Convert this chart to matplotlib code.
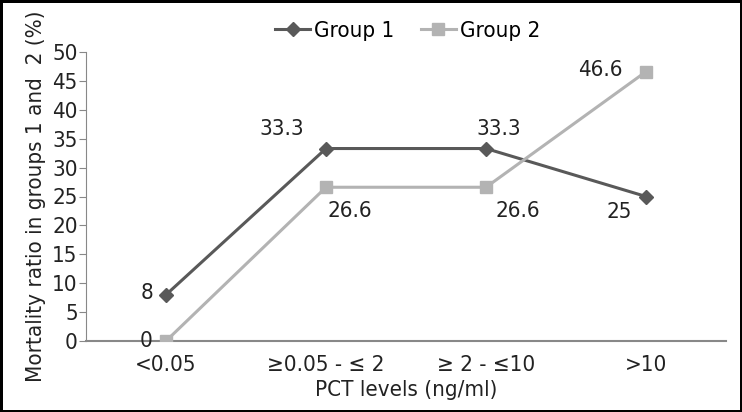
import matplotlib
matplotlib.use('Agg')
import matplotlib.pyplot as plt

# Dati
categorie = ['<0.05', '≥0.05 - ≤ 2', '≥ 2 - ≤10', '>10']
gruppo_1 = [8, 33.3, 33.3, 25]
gruppo_2 = [0, 26.6, 26.6, 46.6]
etichette_1 = ['8', '33.3', '33.3', '25']
etichette_2 = ['0', '26.6', '26.6', '46.6']

plt.rcParams['font.family'] = ['DejaVu Sans']
plt.rcParams['font.stretch'] = 'condensed'

fig = plt.figure(figsize=(7.42, 4.12), dpi=100, linewidth=2.5, edgecolor='black')
ax = fig.add_axes([86 / 742, 71 / 412, 640 / 742, 289 / 412])

x = list(range(len(categorie)))
col1 = '#595959'
col2 = '#b3b3b3'
testo = '#222222'
fs = 16

ax.plot(x, gruppo_1, color=col1, linewidth=2.2, marker='D', markersize=7,
        label='Group 1', zorder=3)
ax.plot(x, gruppo_2, color=col2, linewidth=2.2, marker='s', markersize=9,
        label='Group 2', zorder=3)

# Etichette dei valori (offset in punti rispetto al marker)
off_1 = [(-14, 1.5), (-32, 14), (9, 14), (-19, -11)]
off_2 = [(-14, 0), (17, -17), (23, -17), (-33, 1.5)]
for i in x:
    ax.annotate(etichette_1[i], (i, gruppo_1[i]), xytext=off_1[i],
                textcoords='offset points', ha='center', va='center',
                fontsize=fs, color=testo)
    ax.annotate(etichette_2[i], (i, gruppo_2[i]), xytext=off_2[i],
                textcoords='offset points', ha='center', va='center',
                fontsize=fs, color=testo)

ax.set_xlim(-0.5, 3.5)
ax.set_ylim(0, 50)
ax.set_yticks(range(0, 51, 5))
ax.set_xticks(x)
ax.set_xticklabels(categorie)

for s in ['top', 'right']:
    ax.spines[s].set_visible(False)
ax.spines['left'].set_color('#888888')
ax.spines['bottom'].set_color('#888888')
ax.spines['bottom'].set_linewidth(1.5)
ax.tick_params(axis='y', length=5, color='#888888', labelsize=fs,
               labelcolor=testo, pad=1)
ax.tick_params(axis='x', length=0, labelsize=fs, labelcolor=testo, pad=10)

ax.set_xlabel('PCT levels (ng/ml)', fontsize=fs, color=testo, labelpad=4)
ax.set_ylabel('Mortality ratio in groups 1 and  2 (%)', fontsize=fs,
              color=testo, labelpad=4)

ax.legend(loc='center', bbox_to_anchor=(0.502, 1.073), ncol=2, frameon=False,
          fontsize=fs, handlelength=1.6, handletextpad=0.15, columnspacing=1.2,
          borderaxespad=0, borderpad=0)

fig.savefig('out.png', dpi=100)
